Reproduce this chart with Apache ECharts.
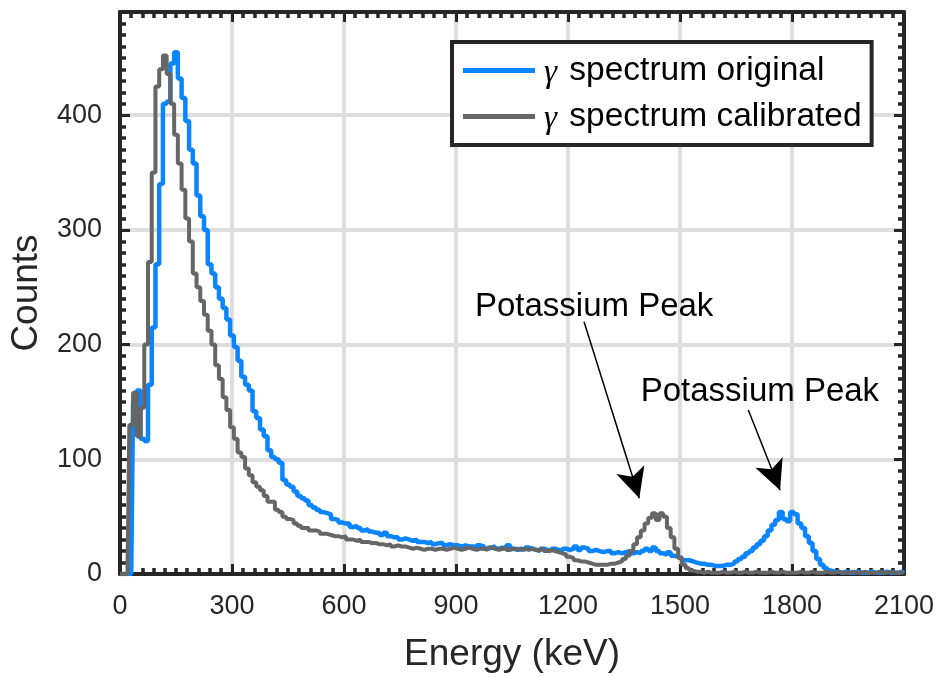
<!DOCTYPE html>
<html><head><meta charset="utf-8">
<script src="https://cdn.jsdelivr.net/npm/echarts@6/dist/echarts.min.js"></script>
<style>html,body{margin:0;padding:0;background:#fff}#c{width:937px;height:677px}</style>
</head><body><div id="c"></div>
<script>
const energy = [
0,10,20,30,40,50,60,70,80,90,100,110,120,130,140,150,160,170,180,190,
200,210,220,230,240,250,260,270,280,290,300,310,320,330,340,350,360,370,380,390,
400,410,420,430,440,450,460,470,480,490,500,510,520,530,540,550,560,570,580,590,
600,610,620,630,640,650,660,670,680,690,700,710,720,730,740,750,760,770,780,790,
800,810,820,830,840,850,860,870,880,890,900,910,920,930,940,950,960,970,980,990,
1000,1010,1020,1030,1040,1050,1060,1070,1080,1090,1100,1110,1120,1130,1140,1150,1160,1170,1180,1190,
1200,1210,1220,1230,1240,1250,1260,1270,1280,1290,1300,1310,1320,1330,1340,1350,1360,1370,1380,1390,
1400,1410,1420,1430,1440,1450,1460,1470,1480,1490,1500,1510,1520,1530,1540,1550,1560,1570,1580,1590,
1600,1610,1620,1630,1640,1650,1660,1670,1680,1690,1700,1710,1720,1730,1740,1750,1760,1770,1780,1790,
1800,1810,1820,1830,1840,1850,1860,1870,1880,1890,1900,1910,1920,1930,1940,1950,1960,1970,1980,1990,
2000,2010,2020,2030,2040,2050,2060,2070,2080,2090,2100];

const original = [
0,0,0,0,150,160,118,116,165,215,270,340,410,412,445,455,432,415,395,370,
358,330,312,300,270,262,250,240,232,222,208,198,186,172,165,160,142,136,126,120,
108,102,100,97,82,78,76,72,68,66,64,60,58,56,54,53,52,48,47,45,
44,44,41,42,40,38,39,37,36,36,34,36,33,32,32,30,31,30,29,30,
28,28,27,28,26,27,27,25,26,25,25,24,25,24,24,23,25,24,22,23,
24,22,23,22,25,22,21,22,21,23,22,21,20,22,21,20,22,21,20,22,
21,22,24,21,23,22,20,21,20,19,20,20,18,19,18,19,20,18,19,18,
20,22,20,23,20,18,17,19,16,15,14,12,12,11,10,9,9,8,8,7,
7,7,8,8,9,11,13,15,18,20,23,26,29,33,38,43,47,54,48,46,
54,52,44,40,33,27,20,13,8,5,3,2,2,1,2,1,1,2,1,1,
1,2,1,1,1,2,1,1,1,2,1];

const calibrated = [
0,0,0,130,158,120,145,200,272,350,425,440,452,436,410,383,358,335,310,290,
262,250,238,226,212,200,182,170,154,143,128,118,106,102,92,86,80,76,73,68,
63,63,56,54,50,48,47,44,42,40,40,38,38,37,35,35,34,33,33,32,
33,30,30,29,30,28,28,27,27,26,26,25,26,24,25,24,24,23,22,23,
22,21,22,22,21,22,22,21,22,23,22,21,22,23,22,21,22,22,21,23,
22,21,22,23,21,22,22,21,22,21,22,21,21,22,20,21,20,19,18,17,
15,14,12,11,11,10,9,8,8,8,8,9,9,10,11,13,16,20,26,32,
38,44,49,53,47,53,50,40,32,22,14,8,5,3,2,2,1,2,1,1,
1,2,1,1,2,1,1,2,1,1,2,1,1,1,2,1,1,2,1,1,
1,1,2,1,1,2,1,1,1,2,1,1,2,1,1,1,2,1,1,2,
1,1,1,2,1,1,2,1,1,1,2];

const annotationText = ['Potassium Peak', 'Potassium Peak'];
const annotationTextAt = [[1270, 233], [1714, 159]];
const arrowFrom = [[1243, 220], [1683, 143]];
const arrowTo = [[1391, 66], [1768, 73]];

const FONT = 'Liberation Sans, Arial, Helvetica, sans-serif';
const INK = '#262626';

function pairs(ys) { return energy.map((e, i) => [e, ys[i]]); }

function axisCommon(showLabels) {
  return {
    axisLine: { show: true, onZero: false, lineStyle: { color: INK, width: 4 } },
    axisTick: { show: true, inside: true, length: 10, lineStyle: { color: INK, width: 3 } },
    minorTick: { show: true, splitNumber: 10, length: 6, lineStyle: { color: INK, width: 3.5 } },
    axisLabel: { show: showLabels, fontFamily: FONT, fontSize: 27, color: INK, margin: 18,
      showMaxLabel: false, formatter: v => String(v) },
    splitLine: { show: showLabels, lineStyle: { color: '#dedede', width: 4 } }
  };
}

const chart = echarts.init(document.getElementById('c'), null, { renderer: 'canvas' });
chart.setOption({
  animation: false,
  backgroundColor: '#fff',
  grid: { left: 120, right: 33, top: 12, bottom: 103, containLabel: false, outerBoundsMode: 'none' },
  xAxis: [
    Object.assign({ type: 'value', min: 0, max: 2100, interval: 300, position: 'bottom',
      name: 'Energy (keV)', nameLocation: 'middle', nameGap: 62,
      nameTextStyle: { fontFamily: FONT, fontSize: 37, color: INK } }, axisCommon(true),
      { axisLabel: { fontFamily: FONT, fontSize: 27, color: INK, margin: 19, showMaxLabel: true, formatter: v => String(v) } }),
    Object.assign({ type: 'value', min: 0, max: 2100, interval: 300, position: 'top' }, axisCommon(false))
  ],
  yAxis: [
    Object.assign({ type: 'value', min: 0, max: 490, interval: 100, position: 'left',
      name: 'Counts', nameLocation: 'middle', nameGap: 75,
      nameTextStyle: { fontFamily: FONT, fontSize: 37, color: INK } }, axisCommon(true)),
    Object.assign({ type: 'value', min: 0, max: 490, interval: 100, position: 'right' }, axisCommon(false))
  ],
  legend: {
    orient: 'vertical', left: 452, top: 42,
    padding: [9, 10, 9, 11], itemGap: 7,
    borderColor: INK, borderWidth: 4, backgroundColor: '#fff',
    icon: 'rect', itemWidth: 72, itemHeight: 5,
    textStyle: {
      fontFamily: FONT, fontSize: 33.5, color: '#000', lineHeight: 38, padding: [0, 0, 0, 4],
      rich: { g: { fontFamily: 'Liberation Serif, DejaVu Serif, serif', fontStyle: 'italic', fontSize: 33, lineHeight: 38, padding: [6, 3, 0, 0] } }
    },
    formatter: function (n) { return '{g|γ} ' + n; },
    data: ['spectrum original', 'spectrum calibrated']
  },
  series: [
    { name: 'spectrum original', type: 'line', step: 'middle', symbol: 'none', z: 3,
      xAxisIndex: 0, yAxisIndex: 0,
      lineStyle: { color: '#0a84ff', width: 4.5 }, itemStyle: { color: '#0a84ff' },
      data: pairs(original) },
    { name: 'spectrum calibrated', type: 'line', step: 'middle', symbol: 'none', z: 4,
      xAxisIndex: 0, yAxisIndex: 0,
      lineStyle: { color: '#666666', width: 4 }, itemStyle: { color: '#666666' },
      data: pairs(calibrated),
      markLine: {
        silent: true, symbol: ['none', 'arrow'], symbolSize: [22, 30], precision: 3,
        lineStyle: { color: '#000', width: 1.5, type: 'solid' }, label: { show: false },
        data: arrowFrom.map((f, i) => [{ coord: f }, { coord: arrowTo[i] }])
      },
      markPoint: {
        silent: true, symbol: 'circle', symbolSize: 1, itemStyle: { color: 'rgba(0,0,0,0)' },
        label: { show: true, position: 'inside', fontFamily: FONT, fontSize: 33, color: '#000',
          formatter: p => p.name },
        data: annotationText.map((t, i) => ({ name: t, coord: annotationTextAt[i] }))
      }
    }
  ]
});
</script>
</body></html>
